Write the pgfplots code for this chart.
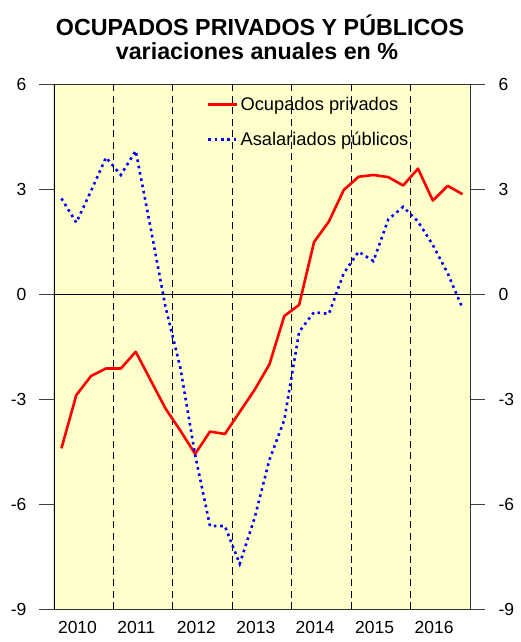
\documentclass[border=0pt]{standalone}
\usepackage{pgfplots}
\pgfplotsset{compat=1.18}
\usepackage{pgfplotstable}
\usepackage{fontspec}
\setmainfont{Liberation Sans}
\definecolor{bgy}{RGB}{255,255,204}
\pgfplotstableread{
x y
0.5 -4.41
1.5 -2.89
2.5 -2.34
3.5 -2.13
4.5 -2.13
5.5 -1.65
6.5 -2.46
7.5 -3.27
8.5 -3.90
9.5 -4.57
10.5 -3.93
11.5 -4.00
12.5 -3.37
13.5 -2.74
14.5 -2.01
15.5 -0.63
16.5 -0.31
17.5 1.48
18.5 2.07
19.5 2.97
20.5 3.35
21.5 3.40
22.5 3.34
23.5 3.10
24.5 3.58
25.5 2.67
26.5 3.09
27.5 2.85
}\privados
\pgfplotstableread{
x y
0.5 2.73
1.5 2.04
2.5 2.95
3.5 3.90
4.5 3.40
5.5 4.09
6.5 1.90
7.5 -0.36
8.5 -2.10
9.5 -4.60
10.5 -6.63
11.5 -6.63
12.5 -7.71
13.5 -6.40
14.5 -4.74
15.5 -3.60
16.5 -1.08
17.5 -0.52
18.5 -0.57
19.5 0.59
20.5 1.21
21.5 0.94
22.5 2.13
23.5 2.49
24.5 2.07
25.5 1.40
26.5 0.59
27.5 -0.41
}\publicos
\begin{document}
\begin{tikzpicture}
\path[use as bounding box] (0,0) rectangle (521pt,642pt);
\node[anchor=base, inner sep=0pt, font=\bfseries\fontsize{23.3}{28}\selectfont] at (260pt,606pt) {OCUPADOS PRIVADOS Y PÚBLICOS};
\node[anchor=base, inner sep=0pt, font=\bfseries\fontsize{23.3}{28}\selectfont] at (257pt,582pt) {variaciones anuales en \%};
\begin{axis}[
  at={(54pt,33pt)}, anchor=south west,
  scale only axis, width=416pt, height=525pt,
  xmin=0, xmax=28, ymin=-9, ymax=6,
  axis background/.style={fill=bgy},
  axis line style={black!80, line width=0.8pt},
  tick align=outside, major tick length=15pt,
  ytick={-9,-6,-3,0,3,6}, yticklabels={-9,-6,-3,0,3,6},
  ytick pos=both, yticklabel pos=left,
  y tick style={black!75, line width=0.8pt},
  yticklabel style={font=\fontsize{17.5}{20}\selectfont, xshift=-9pt},
  xtick={0,4,...,24}, xticklabels={2010,2011,2012,2013,2014,2015,2016},
  x tick style={draw=none},
  xticklabel style={font=\fontsize{17.5}{20}\selectfont, anchor=north west, xshift=0.5pt, yshift=6pt},
  xmajorgrids, major grid style={black, line width=0.8pt, dash pattern=on 7pt off 4.5pt},
  legend style={draw=none, fill=none, at={(rel axis cs:0.36,0.983)}, anchor=north west,
    font=\fontsize{18.3}{21}\selectfont, row sep=16pt},
  legend cell align=left,
  legend image code/.code={\draw[#1] (0pt,0pt) -- (22pt,0pt); \path (0pt,0pt) -- (29pt,0pt);},
]
\draw[black, line width=0.9pt] (axis cs:0,0) -- (axis cs:28,0);
\addplot[red, line width=2.6pt, line join=round] table[x=x,y=y] {\privados};
\addlegendentry{Ocupados privados}
\addplot[blue, line width=2.6pt, dash pattern=on 2.6pt off 3.8pt] table[x=x,y=y] {\publicos};
\addlegendentry{Asalariados públicos}
\draw[black, line width=2pt] (rel axis cs:0,0) -- (rel axis cs:0,1);
\end{axis}
\begin{axis}[
  at={(54pt,33pt)}, anchor=south west,
  scale only axis, width=416pt, height=525pt,
  xmin=0, xmax=28, ymin=-9, ymax=6,
  hide x axis, axis y line*=right,
  y axis line style={black!80, line width=0.8pt},
  tick align=outside, major tick length=15pt,
  ytick={-9,-6,-3,0,3,6}, yticklabels={-9,-6,-3,0,3,6},
  y tick style={black!75, line width=0.8pt},
  yticklabel style={font=\fontsize{17.5}{20}\selectfont, xshift=10pt},
]
\end{axis}
\end{tikzpicture}
\end{document}
